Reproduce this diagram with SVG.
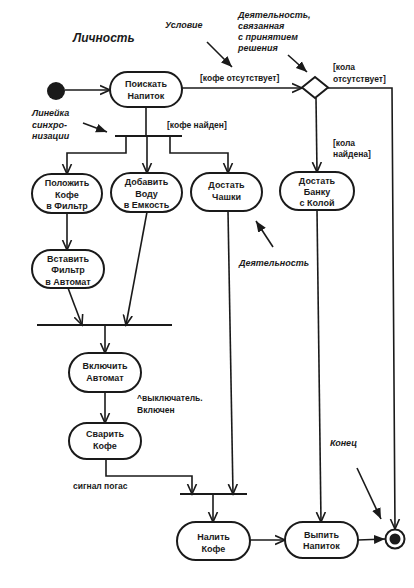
<svg xmlns="http://www.w3.org/2000/svg" width="414" height="588" viewBox="0 0 414 588">
<defs>
<marker id="open" markerUnits="userSpaceOnUse" markerWidth="12" markerHeight="12" refX="10" refY="5" orient="auto" viewBox="0 0 12 10">
<path d="M0,0.5 L10,5 L0,9.5" fill="none" stroke="#1a1a1a" stroke-width="1.6"/>
</marker>
<marker id="fill" markerUnits="userSpaceOnUse" markerWidth="12" markerHeight="12" refX="11" refY="5" orient="auto" viewBox="0 0 12 10">
<path d="M0,0.5 L11,5 L0,9.5 Z" fill="#1a1a1a"/>
</marker>
</defs>
<style>
.node rect{fill:#fff;stroke:#1a1a1a;stroke-width:2}
.nt{font-family:"Liberation Sans",Arial,sans-serif;font-size:9px;font-weight:bold;fill:#1a1a1a;text-anchor:middle}
.lbl{font-family:"Liberation Sans",Arial,sans-serif;font-size:8.5px;font-weight:bold;fill:#1a1a1a}
.note{font-family:"Liberation Sans",Arial,sans-serif;font-size:9px;font-weight:bold;font-style:italic;fill:#1a1a1a}
.c{fill:none;stroke:#1a1a1a;stroke-width:1.6}
.a{marker-end:url(#open)}
.f{marker-end:url(#fill)}
.bar{stroke:#1a1a1a;stroke-width:2.2}
</style>
<rect width="414" height="588" fill="#fff"/>

<g id="connectors">
<path class="c a" d="M65,90 L110,90"/>
<path class="c a" d="M182,88 L302,88"/>
<path class="c a" d="M328,88 L392,88 L395,529"/>
<path class="c a" d="M316,98 L317,172"/>
<path class="c" d="M146,107 L146,136"/>
<path class="c a" d="M126,136 L126,153 L67,153 L67,174"/>
<path class="c a" d="M147,136 L147,173"/>
<path class="c a" d="M170,136 L170,153 L228,153 L228,173"/>
<path class="c a" d="M67,213 L67,250"/>
<path class="c a" d="M68,288 L82,325"/>
<path class="c a" d="M147,212 L126,325"/>
<path class="c a" d="M105,325 L105,353"/>
<path class="c a" d="M105,392 L105,423"/>
<path class="c a" d="M106,459 L106,476 L192,476 L192,494"/>
<path class="c a" d="M228,211 L233,494"/>
<path class="c a" d="M213,494 L213,522"/>
<path class="c a" d="M317,210 L321,522"/>
<path class="c a" d="M250,540 L285,540"/>
<path class="c f" d="M358,540 L385,539"/>
<path class="c f" d="M207,42 L232,67"/>
<path class="c f" d="M288,55 L307,72"/>
<path class="c f" d="M83,123 L107,132"/>
<path class="c f" d="M273,247 L256,221"/>
<path class="c f" d="M357,468 L381,519"/>
</g>

<g id="start"><circle cx="56" cy="91" r="9" fill="#1a1a1a"/></g>
<g id="end"><circle cx="395" cy="539" r="9.5" fill="#fff" stroke="#1a1a1a" stroke-width="2"/><circle cx="395" cy="539" r="5.5" fill="#1a1a1a"/></g>
<g id="decision"><path d="M302,87.5 L315,77 L328,87.5 L315,98 Z" fill="#fff" stroke="#1a1a1a" stroke-width="2"/></g>
<g id="sync1"><line class="bar" x1="115" y1="136" x2="182" y2="136"/></g>
<g id="sync2"><line class="bar" x1="37" y1="325" x2="172" y2="325"/></g>
<g id="sync3"><line class="bar" x1="180" y1="494" x2="247" y2="494"/></g>

<g id="n_search" class="node"><rect x="110" y="72" width="72" height="35" rx="17.5"/><text class="nt" x="146" y="87">Поискать</text><text class="nt" x="146" y="99">Напиток</text></g>
<g id="n_put" class="node"><rect x="32" y="174" width="70" height="39" rx="19.5"/><text class="nt" x="67" y="186">Положить</text><text class="nt" x="67" y="197.5">Кофе</text><text class="nt" x="67" y="209">в Фильтр</text></g>
<g id="n_water" class="node"><rect x="111" y="173" width="71" height="39" rx="19.5"/><text class="nt" x="146.5" y="185">Добавить</text><text class="nt" x="146.5" y="196.5">Воду</text><text class="nt" x="146.5" y="208">в Емкость</text></g>
<g id="n_cups" class="node"><rect x="191" y="173" width="71" height="38" rx="19"/><text class="nt" x="226.5" y="188">Достать</text><text class="nt" x="226.5" y="200">Чашки</text></g>
<g id="n_cola" class="node"><rect x="280" y="172" width="74" height="38" rx="19"/><text class="nt" x="317" y="183.5">Достать</text><text class="nt" x="317" y="195">Банку</text><text class="nt" x="317" y="206">с Колой</text></g>
<g id="n_insert" class="node"><rect x="32" y="250" width="72" height="38" rx="19"/><text class="nt" x="68" y="261.5">Вставить</text><text class="nt" x="68" y="273">Фильтр</text><text class="nt" x="68" y="284.5">в Автомат</text></g>
<g id="n_on" class="node"><rect x="69" y="353" width="72" height="39" rx="19.5"/><text class="nt" x="105" y="369">Включить</text><text class="nt" x="105" y="381">Автомат</text></g>
<g id="n_brew" class="node"><rect x="69" y="423" width="72" height="36" rx="18"/><text class="nt" x="105" y="436.5">Сварить</text><text class="nt" x="105" y="449">Кофе</text></g>
<g id="n_pour" class="node"><rect x="177" y="522" width="73" height="38" rx="19"/><text class="nt" x="213.5" y="540">Налить</text><text class="nt" x="213.5" y="551.5">Кофе</text></g>
<g id="n_drink" class="node"><rect x="285" y="522" width="73" height="36" rx="18"/><text class="nt" x="321.5" y="537.5">Выпить</text><text class="nt" x="321.5" y="549">Напиток</text></g>

<g id="labels">
<text class="note" x="73" y="42" style="font-size:12px">Личность</text>
<text class="note" x="165" y="28">Условие</text>
<text class="note" x="238" y="18">Деятельность,</text>
<text class="note" x="238" y="29">связанная</text>
<text class="note" x="238" y="40">с принятием</text>
<text class="note" x="238" y="51">решения</text>
<text class="lbl" x="200" y="81">[кофе отсутствует]</text>
<text class="lbl" x="333" y="70">[кола</text>
<text class="lbl" x="333" y="82">отсутствует]</text>
<text class="note" x="32" y="116">Линейка</text>
<text class="note" x="32" y="128">синхро-</text>
<text class="note" x="32" y="139">низации</text>
<text class="lbl" x="167" y="128">[кофе найден]</text>
<text class="lbl" x="333" y="146">[кола</text>
<text class="lbl" x="333" y="157">найдена]</text>
<text class="note" x="239" y="266">Деятельность</text>
<text class="lbl" x="137" y="401">^выключатель.</text>
<text class="lbl" x="137" y="413">Включен</text>
<text class="lbl" x="73" y="489">сигнал погас</text>
<text class="note" x="330" y="446">Конец</text>
</g>
</svg>
